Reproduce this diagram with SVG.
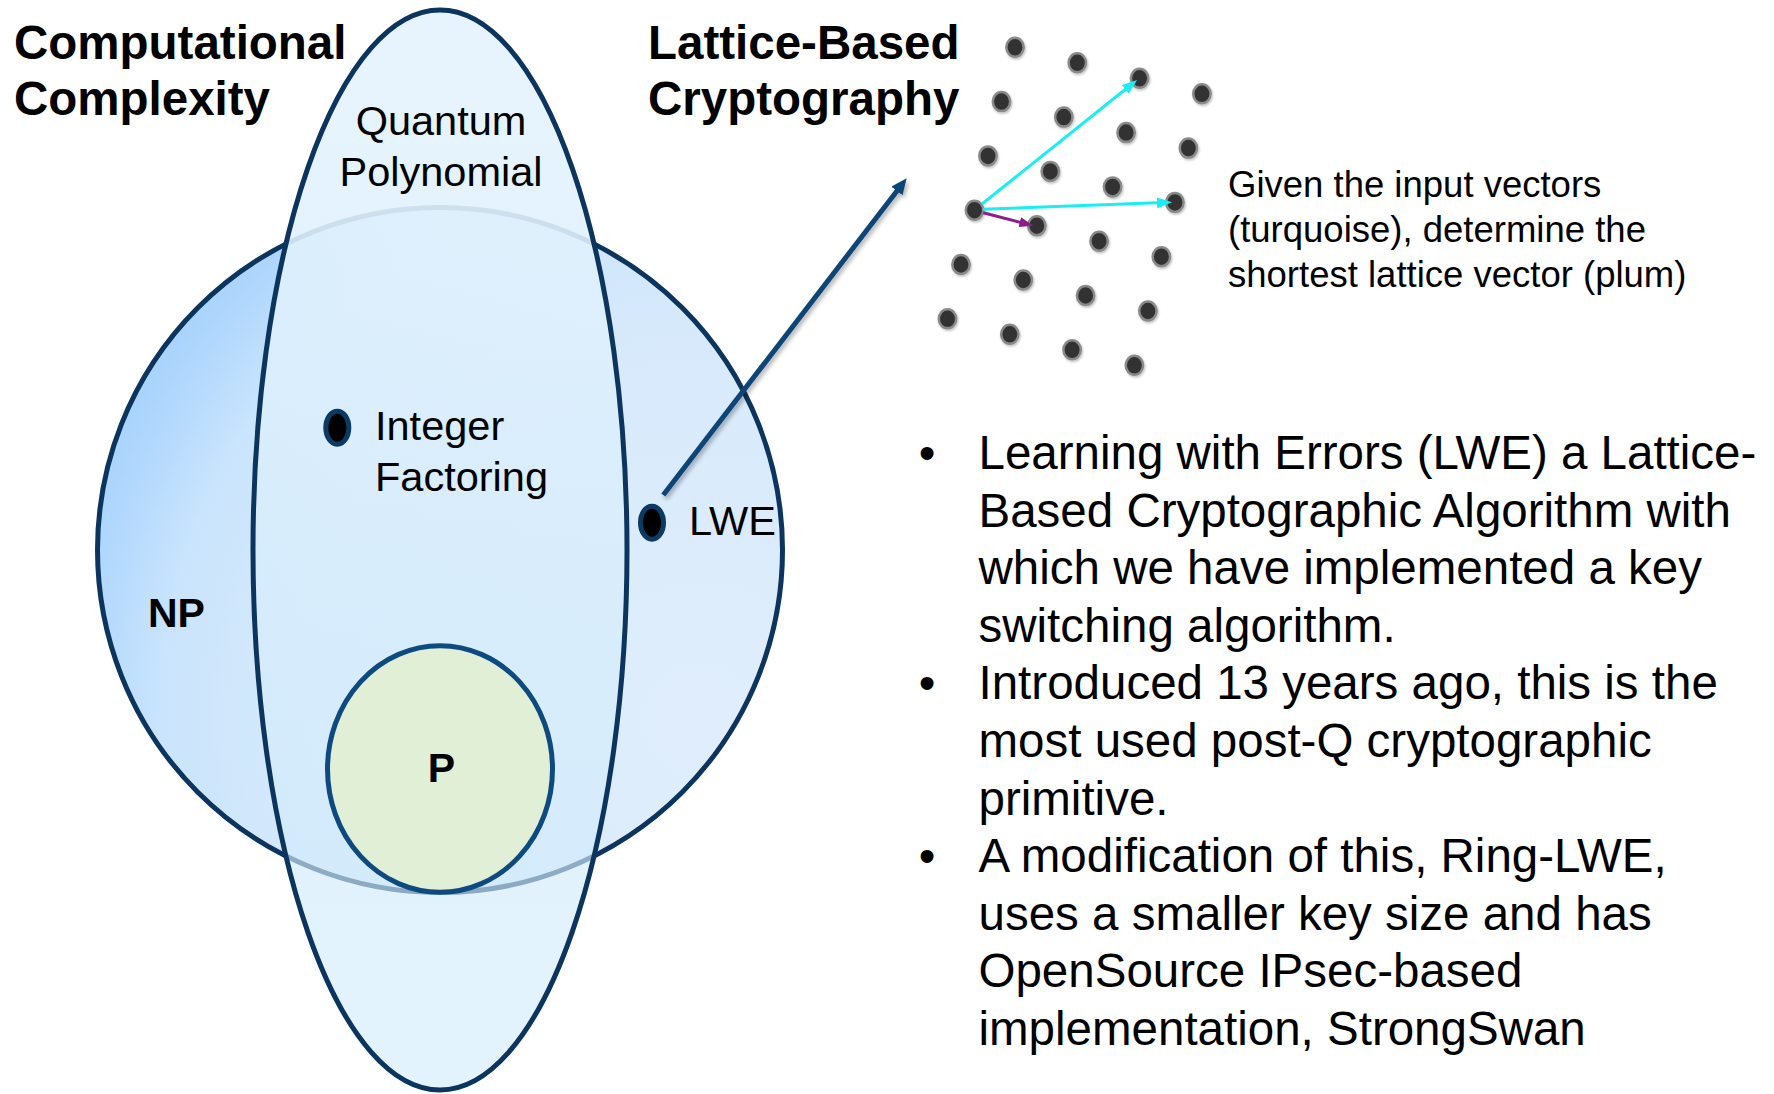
<svg xmlns="http://www.w3.org/2000/svg" width="1774" height="1094" viewBox="0 0 1774 1094">
  <defs>
    <radialGradient id="npFill" gradientUnits="userSpaceOnUse" cx="700" cy="720" r="660">
      <stop offset="0" stop-color="#e0eefc"/>
      <stop offset="0.62" stop-color="#d6e9fb"/>
      <stop offset="0.82" stop-color="#c9e4fc"/>
      <stop offset="0.93" stop-color="#b2d8fc"/>
      <stop offset="1" stop-color="#a6d2fd"/>
    </radialGradient>
    <linearGradient id="qFill" x1="0" y1="0" x2="0" y2="1">
      <stop offset="0" stop-color="#e7f4fd" stop-opacity="0.97"/>
      <stop offset="0.5" stop-color="#d8edfc" stop-opacity="0.8"/>
      <stop offset="1" stop-color="#cdeafc" stop-opacity="0.55"/>
    </linearGradient>
    <filter id="shadow" x="-20%" y="-20%" width="140%" height="140%">
      <feDropShadow dx="2" dy="3" stdDeviation="2" flood-color="#000" flood-opacity="0.3"/>
    </filter>
    <filter id="dotShadow" x="-50%" y="-50%" width="200%" height="200%">
      <feDropShadow dx="1" dy="1.5" stdDeviation="1" flood-color="#000" flood-opacity="0.25"/>
    </filter>
    <marker id="navyHead" markerUnits="userSpaceOnUse" markerWidth="16" markerHeight="14" refX="6" refY="7" orient="auto">
      <path d="M0,0 L16,7 L0,14 z" fill="#0c4577"/>
    </marker>
    <marker id="cyanHead" markerUnits="userSpaceOnUse" markerWidth="15" markerHeight="11" refX="7" refY="5.5" orient="auto">
      <path d="M0,0 L15,5.5 L0,11 z" fill="#19eef2"/>
    </marker>
    <marker id="plumHead" markerUnits="userSpaceOnUse" markerWidth="14" markerHeight="10" refX="6" refY="5" orient="auto">
      <path d="M0,0 L14,5 L0,10 z" fill="#8c1e8c"/>
    </marker>
  </defs>
  <style>
    .title { font-family: "Liberation Sans", Arial, sans-serif; font-weight: bold; font-size: 47.5px; fill: #000; }
    .label { font-family: "Liberation Sans", Arial, sans-serif; font-size: 41.5px; fill: #000; }
    .blabel { font-family: "Liberation Sans", Arial, sans-serif; font-weight: bold; font-size: 41px; fill: #000; }
    .body { font-family: "Liberation Sans", Arial, sans-serif; font-size: 47.5px; fill: #000; }
    .note { font-family: "Liberation Sans", Arial, sans-serif; font-size: 36.5px; fill: #000; }
    .outline { stroke: #0b355e; stroke-width: 5; }
    .pt { fill: #000; stroke: #0b3a63; stroke-width: 5; }
    .lat { fill: #333333; stroke: #8a8a8a; stroke-width: 2.5; }
  </style>
  <rect x="0" y="0" width="1774" height="1094" fill="#ffffff"/>

  <g id="titles">
    <text class="title" x="14" y="58.5">Computational</text>
    <text class="title" x="14" y="115">Complexity</text>
    <text class="title" x="648" y="58.5">Lattice-Based</text>
    <text class="title" x="648" y="115">Cryptography</text>
  </g>

  <g id="np-set">
    <circle class="outline" cx="440" cy="550" r="342.5" fill="url(#npFill)"/>
    <text class="blabel" x="148" y="627">NP</text>
  </g>

  <g id="quantum-polynomial-set">
    <ellipse class="outline" cx="440" cy="550" rx="187" ry="540" fill="url(#qFill)"/>
    <text class="label" x="441" y="135" text-anchor="middle">Quantum</text>
    <text class="label" x="441" y="186" text-anchor="middle">Polynomial</text>
  </g>

  <g id="p-set">
    <ellipse cx="440" cy="769" rx="112.5" ry="123.3" fill="#e0efd6" stroke="#0d4a80" stroke-width="5"/>
    <text class="blabel" x="441.5" y="782" text-anchor="middle">P</text>
  </g>

  <g id="integer-factoring">
    <ellipse class="pt" cx="337.3" cy="427.7" rx="11.5" ry="16.5"/>
    <text class="label" x="375" y="439.5">Integer</text>
    <text class="label" x="375" y="491">Factoring</text>
  </g>

  <g id="lwe">
    <ellipse class="pt" cx="652" cy="522.7" rx="11.5" ry="16.5"/>
    <text class="label" x="689" y="535">LWE</text>
  </g>

  <g id="lattice" filter="url(#dotShadow)">
    <ellipse class="lat" cx="1015" cy="47.3" rx="8.7" ry="9.5"/>
    <ellipse class="lat" cx="1077.3" cy="62.8" rx="8.7" ry="9.5"/>
    <ellipse class="lat" cx="1139.6" cy="78.3" rx="8.7" ry="9.5"/>
    <ellipse class="lat" cx="1201.9" cy="93.8" rx="8.7" ry="9.5"/>
    <ellipse class="lat" cx="1001.5" cy="101.6" rx="8.7" ry="9.5"/>
    <ellipse class="lat" cx="1063.8" cy="117.1" rx="8.7" ry="9.5"/>
    <ellipse class="lat" cx="1126.1" cy="132.6" rx="8.7" ry="9.5"/>
    <ellipse class="lat" cx="1188.4" cy="148.1" rx="8.7" ry="9.5"/>
    <ellipse class="lat" cx="988" cy="155.9" rx="8.7" ry="9.5"/>
    <ellipse class="lat" cx="1050.3" cy="171.4" rx="8.7" ry="9.5"/>
    <ellipse class="lat" cx="1112.6" cy="186.9" rx="8.7" ry="9.5"/>
    <ellipse class="lat" cx="1174.9" cy="202.4" rx="8.7" ry="9.5"/>
    <ellipse class="lat" cx="974.5" cy="210.2" rx="8.7" ry="9.5"/>
    <ellipse class="lat" cx="1036.8" cy="225.7" rx="8.7" ry="9.5"/>
    <ellipse class="lat" cx="1099.1" cy="241.2" rx="8.7" ry="9.5"/>
    <ellipse class="lat" cx="1161.4" cy="256.7" rx="8.7" ry="9.5"/>
    <ellipse class="lat" cx="961" cy="264.5" rx="8.7" ry="9.5"/>
    <ellipse class="lat" cx="1023.3" cy="280" rx="8.7" ry="9.5"/>
    <ellipse class="lat" cx="1085.6" cy="295.5" rx="8.7" ry="9.5"/>
    <ellipse class="lat" cx="1147.9" cy="311" rx="8.7" ry="9.5"/>
    <ellipse class="lat" cx="947.5" cy="318.8" rx="8.7" ry="9.5"/>
    <ellipse class="lat" cx="1009.8" cy="334.3" rx="8.7" ry="9.5"/>
    <ellipse class="lat" cx="1072.1" cy="349.8" rx="8.7" ry="9.5"/>
    <ellipse class="lat" cx="1134.4" cy="365.3" rx="8.7" ry="9.5"/>
  </g>

  <g id="connectors">
    <line x1="663.3" y1="495" x2="900.6" y2="186.2" stroke="#0c4577" stroke-width="5" marker-end="url(#navyHead)" filter="url(#shadow)"/>
    <line x1="982" y1="204" x2="1130.8" y2="85" stroke="#19eef2" stroke-width="3" marker-end="url(#cyanHead)"/>
    <line x1="983" y1="209.3" x2="1164" y2="202.6" stroke="#19eef2" stroke-width="3" marker-end="url(#cyanHead)"/>
    <line x1="983.3" y1="212.7" x2="1025.6" y2="223.7" stroke="#8c1e8c" stroke-width="3" marker-end="url(#plumHead)"/>
  </g>

  <g id="lattice-note">
    <text class="note" x="1228" y="197">Given the input vectors</text>
    <text class="note" x="1228" y="242">(turquoise), determine the</text>
    <text class="note" x="1228" y="287">shortest lattice vector (plum)</text>
  </g>

  <g id="bullets">
    <text class="body" x="927" y="469" text-anchor="middle">•</text>
    <text class="body" x="978.5" y="469">Learning with Errors (LWE) a Lattice-</text>
    <text class="body" x="978.5" y="526.6">Based Cryptographic Algorithm with</text>
    <text class="body" x="978.5" y="584.2">which we have implemented a key</text>
    <text class="body" x="978.5" y="641.8">switching algorithm.</text>
    <text class="body" x="927" y="699.4" text-anchor="middle">•</text>
    <text class="body" x="978.5" y="699.4">Introduced 13 years ago, this is the</text>
    <text class="body" x="978.5" y="757">most used post-Q cryptographic</text>
    <text class="body" x="978.5" y="814.6">primitive.</text>
    <text class="body" x="927" y="872.2" text-anchor="middle">•</text>
    <text class="body" x="978.5" y="872.2">A modification of this, Ring-LWE,</text>
    <text class="body" x="978.5" y="929.8">uses a smaller key size and has</text>
    <text class="body" x="978.5" y="987.4">OpenSource IPsec-based</text>
    <text class="body" x="978.5" y="1045">implementation, StrongSwan</text>
  </g>
</svg>
